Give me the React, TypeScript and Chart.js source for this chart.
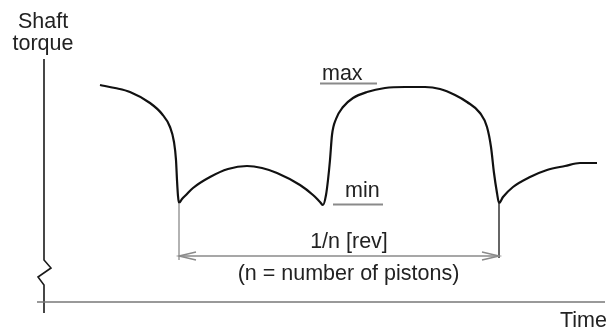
import React, { useEffect, useRef } from "react";
import { Chart, registerables } from "chart.js";

Chart.register(...registerables);

// Time (arbitrary units, origin at the torque axis) and shaft torque (arbitrary units, origin at time axis)
const timeValues: number[] = [
  56, 71, 86, 106, 118, 126, 130, 132, 133, 134, 135,
  138, 142, 149, 166, 184, 203, 218, 233, 256, 269, 276, 279,
  282, 284, 286, 288, 292, 299, 309, 323, 341, 361, 381, 396, 411, 423, 436, 443, 447, 450, 453, 455,
  459, 469, 486, 503, 521, 536, 553,
];
const torqueValues: number[] = [
  217, 214, 210, 199, 188, 175, 160, 142, 122, 106, 99,
  103, 107, 114, 125, 133, 136, 134, 129, 117, 107, 100, 97,
  107, 122, 142, 167, 183, 195, 204, 210, 214, 215, 215, 213, 207, 200, 189, 175, 155, 129, 109, 99,
  105, 115, 125, 132, 136, 139, 139,
];

const axisLabelLines: string[] = ["Shaft", "torque"];
const timeLabel = "Time";
const maxLabel = "max";
const minLabel = "min";
const periodLabel = "1/n [rev]";
const periodNote = "(n = number of pistons)";

const FONT = '21.5px "Liberation Sans", Arial, sans-serif';

const annotationPlugin = {
  id: "diagramAnnotations",
  afterDraw(chart: any) {
    const ctx: CanvasRenderingContext2D = chart.ctx;
    const xs = chart.scales.x;
    const ys = chart.scales.y;
    const X = (v: number) => xs.getPixelForValue(v);
    const Y = (v: number) => ys.getPixelForValue(v);

    // find the three dips (local minima)
    const dips: number[] = [];
    for (let i = 1; i < torqueValues.length - 1; i++) {
      if (torqueValues[i] < torqueValues[i - 1] && torqueValues[i] < torqueValues[i + 1]) dips.push(i);
    }
    const d1 = dips[0];
    const d3 = dips[dips.length - 1];

    ctx.save();
    ctx.lineCap = "butt";

    // torque axis with break
    ctx.strokeStyle = "#1a1a1a";
    ctx.lineWidth = 1.6;
    ctx.beginPath();
    ctx.moveTo(X(0), Y(243));
    ctx.lineTo(X(0), Y(42));
    ctx.lineTo(X(7), Y(34));
    ctx.lineTo(X(-6), Y(25));
    ctx.lineTo(X(0), Y(17));
    ctx.lineTo(X(0), Y(-11));
    ctx.stroke();

    // time axis
    ctx.strokeStyle = "#777";
    ctx.lineWidth = 1.6;
    ctx.beginPath();
    ctx.moveTo(X(-7), Y(0));
    ctx.lineTo(X(561), Y(0));
    ctx.stroke();

    // dimension lines
    const t1 = timeValues[d1];
    const t3 = timeValues[d3];
    ctx.lineWidth = 1.5;
    ctx.strokeStyle = "#9a9a9a";
    ctx.beginPath();
    ctx.moveTo(X(t1), Y(torqueValues[d1]));
    ctx.lineTo(X(t1), Y(42));
    ctx.stroke();
    ctx.strokeStyle = "#333";
    ctx.beginPath();
    ctx.moveTo(X(t3), Y(torqueValues[d3]));
    ctx.lineTo(X(t3), Y(44));
    ctx.stroke();

    const ay = Y(46);
    ctx.strokeStyle = "#8a8a8a";
    ctx.beginPath();
    ctx.moveTo(X(t1), ay);
    ctx.lineTo(X(t3), ay);
    ctx.stroke();
    // open arrowheads
    ctx.beginPath();
    ctx.moveTo(X(t1) + 17, ay - 4);
    ctx.lineTo(X(t1), ay);
    ctx.lineTo(X(t1) + 17, ay + 4);
    ctx.moveTo(X(t3) - 17, ay - 4);
    ctx.lineTo(X(t3), ay);
    ctx.lineTo(X(t3) - 17, ay + 4);
    ctx.stroke();

    // underlines for max / min
    ctx.strokeStyle = "#8a8a8a";
    ctx.lineWidth = 2;
    ctx.beginPath();
    ctx.moveTo(X(276), Y(218.5));
    ctx.lineTo(X(333), Y(218.5));
    ctx.moveTo(X(289), Y(97.5));
    ctx.lineTo(X(339), Y(97.5));
    ctx.stroke();

    // texts
    ctx.fillStyle = "#222";
    ctx.font = FONT;
    ctx.textBaseline = "alphabetic";
    ctx.textAlign = "center";
    ctx.fillText(axisLabelLines[0], X(-1), Y(274));
    ctx.fillText(axisLabelLines[1], X(-1), Y(252));
    ctx.fillText(periodLabel, X(305), Y(54));
    ctx.fillText(periodNote, X(304.5), Y(22));
    ctx.textAlign = "left";
    ctx.fillText(maxLabel, X(278), Y(222));
    ctx.fillText(minLabel, X(301), Y(105));
    ctx.fillText(timeLabel, X(516), Y(-25));
    ctx.restore();
  },
};

export default function App() {
  const ref = useRef<HTMLCanvasElement | null>(null);
  useEffect(() => {
    document.body.style.margin = "0";
    document.body.style.background = "#fff";
    if (!ref.current) return;
    const chart = new Chart(ref.current, {
      type: "line",
      data: {
        datasets: [
          {
            data: timeValues.map((t, i) => ({ x: t, y: torqueValues[i] })),
            borderColor: "#111",
            borderWidth: 2.2,
            pointRadius: 0,
            cubicInterpolationMode: "monotone",
            fill: false,
          },
        ],
      },
      options: {
        animation: false,
        responsive: false,
        layout: { padding: 0 },
        plugins: { legend: { display: false }, tooltip: { enabled: false } },
        scales: {
          x: { type: "linear", min: -44, max: 564, display: false },
          y: { type: "linear", min: -26, max: 302, display: false },
        },
      },
      plugins: [annotationPlugin],
    });
    return () => chart.destroy();
  }, []);
  return (
    <div style={{ width: 608, height: 328, background: "#fff" }}>
      <canvas ref={ref} width={608} height={328} />
    </div>
  );
}
